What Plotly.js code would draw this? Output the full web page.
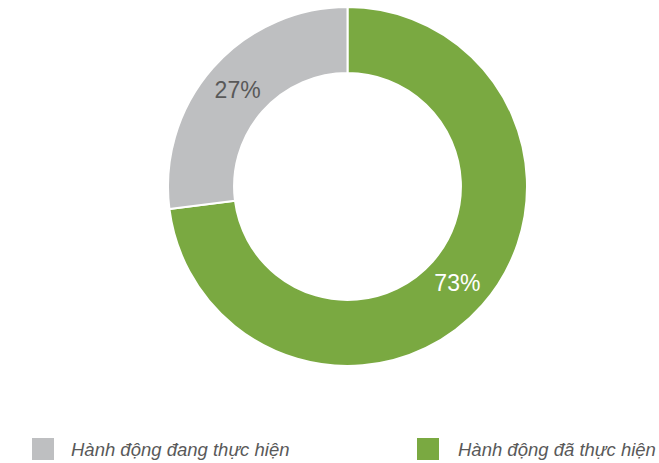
<!DOCTYPE html>
<html>
<head>
<meta charset="utf-8">
<script src="https://cdn.plot.ly/plotly-3.0.1.min.js"></script>
<style>html,body{margin:0;padding:0;background:#fff;}#chart{width:659px;height:463px;}</style>
</head>
<body>
<div id="chart"></div>
<script>
const labels = ["Hành động đã thực hiện", "Hành động đang thực hiện"];
const values = [73, 27];
const colors = ["#7AA941", "#BEBFC1"];
const textColors = ["#FFFFFF", "#595959"];

const W = 659, H = 463;
const px = x => x / W;
const py = y => (H - y) / H;

const trace = {
  type: "pie",
  labels: labels,
  values: values,
  hole: 0.632,
  sort: false,
  direction: "clockwise",
  rotation: 0,
  textinfo: "percent",
  textposition: "inside",
  insidetextorientation: "horizontal",
  insidetextfont: {family: "Liberation Sans, Arial, sans-serif", size: 23, color: textColors},
  marker: {colors: colors, line: {color: "#FFFFFF", width: 2}},
  domain: {x: [px(168), px(527)], y: [py(366), py(7)]},
  showlegend: false,
  hoverinfo: "label+percent"
};

// legend (order: gray first, then green)
const legendOrder = [1, 0];
const legendSquareX = [32, 417];
const legendTextX = [69, 456];
const shapes = [], annotations = [];
legendOrder.forEach((idx, i) => {
  shapes.push({
    type: "rect", xref: "paper", yref: "paper",
    x0: px(legendSquareX[i]), x1: px(legendSquareX[i] + 22),
    y0: py(460), y1: py(438),
    fillcolor: colors[idx], line: {width: 0}
  });
  annotations.push({
    xref: "paper", yref: "paper",
    x: px(legendTextX[i]), y: py(449),
    xanchor: "left", yanchor: "middle",
    text: "<i>" + labels[idx] + "</i>",
    showarrow: false,
    font: {family: "Liberation Sans, Arial, sans-serif", size: 18.5, color: "#595959"}
  });
});

const layout = {
  width: W, height: H,
  margin: {l: 0, r: 0, t: 0, b: 0},
  paper_bgcolor: "#FFFFFF",
  plot_bgcolor: "#FFFFFF",
  showlegend: false,
  shapes: shapes,
  annotations: annotations
};

Plotly.newPlot("chart", [trace], layout, {displayModeBar: false, staticPlot: true});
</script>
</body>
</html>
